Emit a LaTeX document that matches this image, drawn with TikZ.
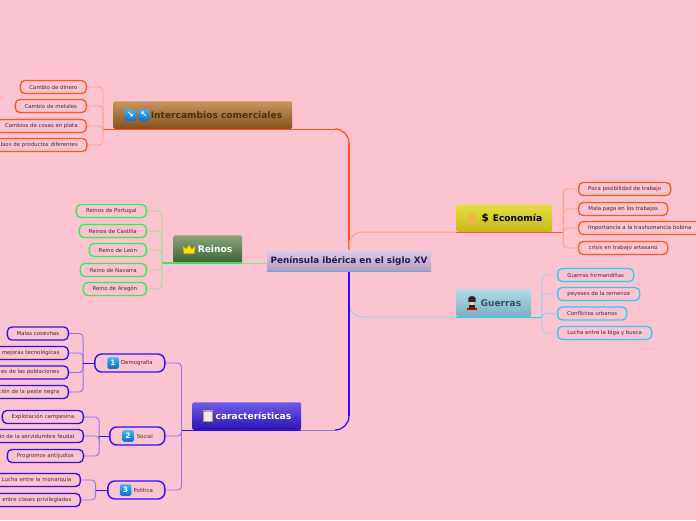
\documentclass[tikz,border=0pt]{standalone}
\usepackage{fontspec}
\setmainfont{DejaVu Sans}
\usepackage{xcolor}
\usepackage{tikz}
\usetikzlibrary{positioning,calc}
\definecolor{bgpink}{RGB}{252,195,208}
\definecolor{leaftext}{RGB}{70,40,60}
\definecolor{tradeline}{RGB}{255,86,30}
\definecolor{tradelight}{RGB}{255,160,135}
\definecolor{kingline}{RGB}{40,240,85}
\definecolor{kinglight}{RGB}{140,230,140}
\definecolor{featline}{RGB}{45,15,245}
\definecolor{featlight}{RGB}{145,115,240}
\definecolor{warline}{RGB}{30,210,250}
\definecolor{warlight}{RGB}{140,215,240}
\definecolor{rootup}{RGB}{224,204,234}
\definecolor{rootdown}{RGB}{180,155,190}
\definecolor{rootink}{RGB}{45,20,80}
\definecolor{tradeup}{RGB}{198,150,95}
\definecolor{tradedown}{RGB}{132,80,25}
\definecolor{tradeink}{RGB}{80,45,12}
\definecolor{econup}{RGB}{232,222,64}
\definecolor{econdown}{RGB}{198,184,24}
\definecolor{kingup}{RGB}{136,166,126}
\definecolor{kingdown}{RGB}{62,98,54}
\definecolor{warup}{RGB}{176,220,232}
\definecolor{wardown}{RGB}{124,174,190}
\definecolor{warink}{RGB}{40,85,105}
\definecolor{featup}{RGB}{112,92,232}
\definecolor{featdown}{RGB}{44,18,180}
\definecolor{badgeup}{RGB}{60,180,240}
\definecolor{badgedown}{RGB}{10,110,210}
\tikzset{
  rootbox/.style={rectangle, minimum width=164pt, minimum height=21pt, inner sep=0pt, rounded corners=1pt, top color=rootup, bottom color=rootdown, font=\fontsize{8.85}{10}\selectfont\bfseries, text=rootink},
  branchbox/.style={rectangle, minimum height=27.5pt, inner xsep=10pt, inner ysep=0pt, align=right, rounded corners=1.5pt, font=\fontsize{9.1}{10}\selectfont\bfseries, anchor=south west},
  midbox/.style={rectangle, draw=featline, line width=1.4pt, fill=bgpink, rounded corners=7pt, minimum height=18pt, inner xsep=12pt, inner ysep=0pt, align=right, font=\fontsize{5.4}{7}\selectfont, text=leaftext, anchor=east},
  leafbox/.style={rectangle, line width=1.3pt, fill=bgpink, rounded corners=4.5pt, minimum height=13pt, inner xsep=0pt, inner ysep=0pt, font=\fontsize{5.4}{7}\selectfont, text=leaftext},
  leafleft/.style={leafbox, anchor=east, minimum width=#1},
  leafright/.style={leafbox, anchor=west, minimum width=#1},
  leafcut/.style={leafbox, anchor=east, inner xsep=9pt, text width=#1, align=right},
  badge/.style={rectangle, rounded corners=1.5pt, minimum size=11.5pt, inner sep=0pt, top color=badgeup, bottom color=badgedown, text=white, font=\fontsize{7.5}{8}\selectfont\bfseries},
  stem/.style={line width=0.9pt, rounded corners=4pt},
  crownicon/.pic={
    \fill[yellow!85!orange, draw=orange!70!brown, line width=0.3pt] (-5.3,4) -- (-6,-3.5) -- (-2.9,-0.5) -- (0,-4.5) -- (2.9,-0.5) -- (6,-3.5) -- (5.3,4) -- cycle;
  },
  bagicon/.pic={
    \fill[orange!55!bgpink!90!yellow] (-1.5,-5) -- (1.5,-5) -- (1,-2.5) .. controls (4.5,-1) and (4.5,5) .. (0,5) .. controls (-4.5,5) and (-4.5,-1) .. (-1,-2.5) -- cycle;
  },
  guardicon/.pic={
    \fill[black!85] (-3.6,-1) -- (-3.6,-5) .. controls (-3,-7.5) and (3,-7.5) .. (3.6,-5) -- (3.6,-1) -- cycle;
    \fill[orange!45!white] (-2.2,-1) rectangle (2.2,1.5);
    \fill[black!85] (-3.2,1.5) rectangle (3.2,4.5);
    \fill[red!75!black] (-4.6,4.5) rectangle (4.6,7);
  },
  clipicon/.pic={
    \fill[brown!85!white] (-4.8,-5.6) rectangle (4.8,5.6);
    \fill[white!85!gray] (-3.6,-4.2) rectangle (3.6,4.6);
    \fill[gray!60] (-2,-6.2) rectangle (2,-3.6);
  },
}
\begin{document}
\begin{tikzpicture}[x=1pt, y=-1pt]
  \useasboundingbox[fill=bgpink] (0,0) rectangle (696,520);

  % Root
  \node[rootbox] (root) at (349,260.5) {Península ibérica en el siglo XV};

  % Branches
  \node[branchbox, minimum width=179pt, text width=159pt, top color=tradeup, bottom color=tradedown, text=tradeink] (trade) at (113,129) {Intercambios comerciales};
  \node[branchbox, minimum width=96pt, text width=76pt, top color=econup, bottom color=econdown, text=black] (econ) at (456,232) {Economía};
  \node[branchbox, minimum width=69pt, text width=49pt, top color=kingup, bottom color=kingdown, text=white] (king) at (173,263) {Reinos};
  \node[branchbox, minimum width=75pt, text width=55pt, top color=warup, bottom color=wardown, text=warink] (war) at (456,317) {Guerras};
  \node[branchbox, minimum width=109pt, text width=89pt, top color=featup, bottom color=featdown, text=white] (feat) at (192,430) {características};

  % Middle level
  \node[midbox, minimum width=70pt, text width=46pt] (demo) at (165.5,363) {Demografía};
  \node[midbox, minimum width=55pt, text width=31pt] (social) at (165.5,436) {Social};
  \node[midbox, minimum width=57pt, text width=33pt] (polit) at (165.5,490) {Política};

  % Intercambios leaves
  \node[leafleft=66pt, draw=tradeline] (trade1) at (87,87) {Cambio de dinero};
  \node[leafleft=71pt, draw=tradeline, below=4.7pt of trade1.south east, anchor=north east] (trade2) {Cambio de metales};
  \node[leafleft=90pt, draw=tradeline, below=5.7pt of trade2.south east, anchor=north east] (trade3) {Cambios de cosas en plata};
  \node[leafcut=82pt, draw=tradeline, below=4.7pt of trade3.south east, anchor=north east, xshift=0.5pt] (trade4) {bios de productos diferentes};

  % Reinos leaves
  \node[leafleft=70pt, draw=kingline] (king1) at (147,211) {Reinos de Portugal};
  \node[leafleft=67pt, draw=kingline, below=5.7pt of king1.south east, anchor=north east] (king2) {Reinos de Castilla};
  \node[leafleft=57pt, draw=kingline, below=4.7pt of king2.south east, anchor=north east] (king3) {Reino de León};
  \node[leafleft=66pt, draw=kingline, below=5.7pt of king3.south east, anchor=north east] (king4) {Reino de Navarra};
  \node[leafleft=63pt, draw=kingline, below=4.7pt of king4.south east, anchor=north east] (king5) {Reino de Aragón};

  % Economia leaves
  \node[leafright=92pt, draw=tradeline] (econ1) at (578,189) {Poca posibilidad de trabajo};
  \node[leafright=89pt, draw=tradeline, below=5.7pt of econ1.south west, anchor=north west] (econ2) {Mala paga en los trabajos};
  \node[leafbox, inner xsep=9.5pt, text width=118pt, align=left, draw=tradeline, below=4.7pt of econ2.south west, anchor=north west] (econ3) {Importancia a la trashumancia bobina};
  \node[leafright=89pt, draw=tradeline, below=5.7pt of econ3.south west, anchor=north west] (econ4) {crisis en trabajo artesano};

  % Guerras leaves
  \node[leafright=76pt, draw=warline] (war1) at (557,275) {Guerras hirmandiñas};
  \node[leafright=82pt, draw=warline, below=4.7pt of war1.south west, anchor=north west] (war2) {peyeses de la remenza};
  \node[leafright=69pt, draw=warline, below=5.2pt of war2.south west, anchor=north west] (war3) {Conflictos urbanos};
  \node[leafright=94pt, draw=warline, below=5.2pt of war3.south west, anchor=north west] (war4) {Lucha entre la biga y busca};

  % Demografia leaves
  \node[leafleft=61pt, draw=featline] (demo1) at (69,333.5) {Malas cosevhas};
  \node[leafcut=62pt, draw=featline, below=5.2pt of demo1.south east, anchor=north east] (demo2) {mejoras tecnológicas};
  \node[leafcut=62pt, draw=featline, below=5.2pt of demo2.south east, anchor=north east] (demo3) {es de las poblaciones};
  \node[leafcut=62pt, draw=featline, below=5.2pt of demo3.south east, anchor=north east] (demo4) {ción de la peste negra};

  % Social leaves
  \node[leafleft=81pt, draw=featline] (social1) at (84,417) {Explotación campesina};
  \node[leafcut=77pt, draw=featline, below=4.7pt of social1.south east, anchor=north east] (social2) {in de la servidumbre feudal};
  \node[leafleft=76pt, draw=featline, below=5.7pt of social2.south east, anchor=north east] (social3) {Progromos antijudíos};

  % Politica leaves
  \node[leafcut=74pt, draw=featline] (polit1) at (81,480) {Lucha entre la monarquía};
  \node[leafcut=74pt, draw=featline, below=5.7pt of polit1.south east, anchor=north east] (polit2) {entre clases privilegiadas};

  % Icons
  \node[badge, right=11.5pt of trade.west] (tradeicona) {\fontsize{8.5}{9}\selectfont ↘};
  \node[badge, right=1.5pt of tradeicona] (tradeiconb) {\fontsize{8.5}{9}\selectfont ↖};
  \node[right=25.5pt of econ.west, inner sep=0pt, font=\fontsize{10.5}{11}\selectfont\bfseries] (econicon) {\$};
  \node[badge, right=13pt of demo.west] (demoicon) {1};
  \node[badge, right=13pt of social.west] (socialicon) {2};
  \node[badge, right=12.5pt of polit.west] (politicon) {3};
  \pic at ($(econ.west)+(16,0)$) {bagicon};
  \pic at ($(king.west)+(16,0.5)$) {crownicon};
  \pic at ($(war.west)+(16,0)$) {guardicon};
  \pic at ($(feat.west)+(16,0)$) {clipicon};

  % Turning points and hubs
  \coordinate (tradehub) at ($(trade.south west)+(-10,0)$);
  \coordinate (kinghub) at ($(king.south west)+(-11,0)$);
  \coordinate (econhub) at ($(econ.south east)+(11,0)$);
  \coordinate (warhub) at ($(war.south east)+(10.5,0)$);
  \coordinate (feathub) at ($(feat.south west)+(-10.5,0)$);
  \coordinate (demohub) at ($(demo.west)+(-11,0)$);
  \coordinate (socialhub) at ($(social.west)+(-10,0)$);
  \coordinate (polithub) at ($(polit.west)+(-11.5,0)$);
  \coordinate (tradeturn) at ($(root.north |- trade.south)+(-14,0)$);
  \coordinate (featturn) at ($(root.south |- feat.south)+(-14,0)$);
  \coordinate (tradetrunk) at ($(root.north |- trade.south)+(0,14)$);
  \coordinate (feattrunk) at ($(root.south |- feat.south)+(0,-14)$);

  % Main connectors
  \draw[tradeline, line width=1pt] (trade.south east) -- (tradeturn);
  \draw[tradeline, line width=1.3pt, rounded corners=14pt] (root.north) |- (tradeturn);
  \draw[tradeline, line width=2.2pt] (root.north) -- (tradetrunk);
  \draw[tradelight, line width=1pt, rounded corners=13pt] (root.north) |- (econ.south west);
  \draw[warlight, line width=1pt, rounded corners=13pt] (root.south) |- (war.south west);
  \draw[featlight, line width=1pt] (feat.south east) -- (featturn);
  \draw[featline, line width=1.3pt, rounded corners=14pt] (root.south) |- (featturn);
  \draw[featline, line width=2.2pt] (root.south) -- (feattrunk);
  \draw[kinglight, line width=1pt] (root.west |- king.south east) -- (king.south east);

  % Underlines
  \draw[tradeline, line width=1pt] (tradehub) -- (trade.south east);
  \draw[tradeline, line width=1pt] (econ.south west) -- (econhub);
  \draw[kingline, line width=1.2pt] (kinghub) -- (king.south east);
  \draw[warline, line width=1pt] (war.south west) -- (warhub);
  \draw[featline, line width=1pt] (feathub) -- (feat.south east);
  \draw[blue!60!cyan!60, line width=1pt] (root.south west) -- (root.south east);

  % Stems
  \foreach \leaf in {trade1,trade2,trade3,trade4}
    \draw[stem, tradelight] (tradehub) |- (\leaf.east);
  \foreach \leaf in {king1,king2,king3,king4,king5}
    \draw[stem, kinglight] (kinghub) |- (\leaf.east);
  \foreach \leaf in {econ1,econ2,econ3,econ4}
    \draw[stem, tradelight] (econhub) |- (\leaf.west);
  \foreach \leaf in {war1,war2,war3,war4}
    \draw[stem, warlight] (warhub) |- (\leaf.west);
  \foreach \leaf in {demo,social,polit}
    \draw[stem, featlight] (feathub) |- (\leaf.east);
  \foreach \leaf in {demo1,demo2,demo3,demo4}
    \draw[stem, featlight] (demohub) |- (\leaf.east);
  \foreach \leaf in {social1,social2,social3}
    \draw[stem, featlight] (socialhub) |- (\leaf.east);
  \foreach \leaf in {polit1,polit2}
    \draw[stem, featlight] (polithub) |- (\leaf.east);
  \draw[featline, line width=1pt] (demohub) -- (demo.west);
  \draw[featline, line width=1pt] (socialhub) -- (social.west);
  \draw[featline, line width=1pt] (polithub) -- (polit.west);
\end{tikzpicture}
\end{document}
